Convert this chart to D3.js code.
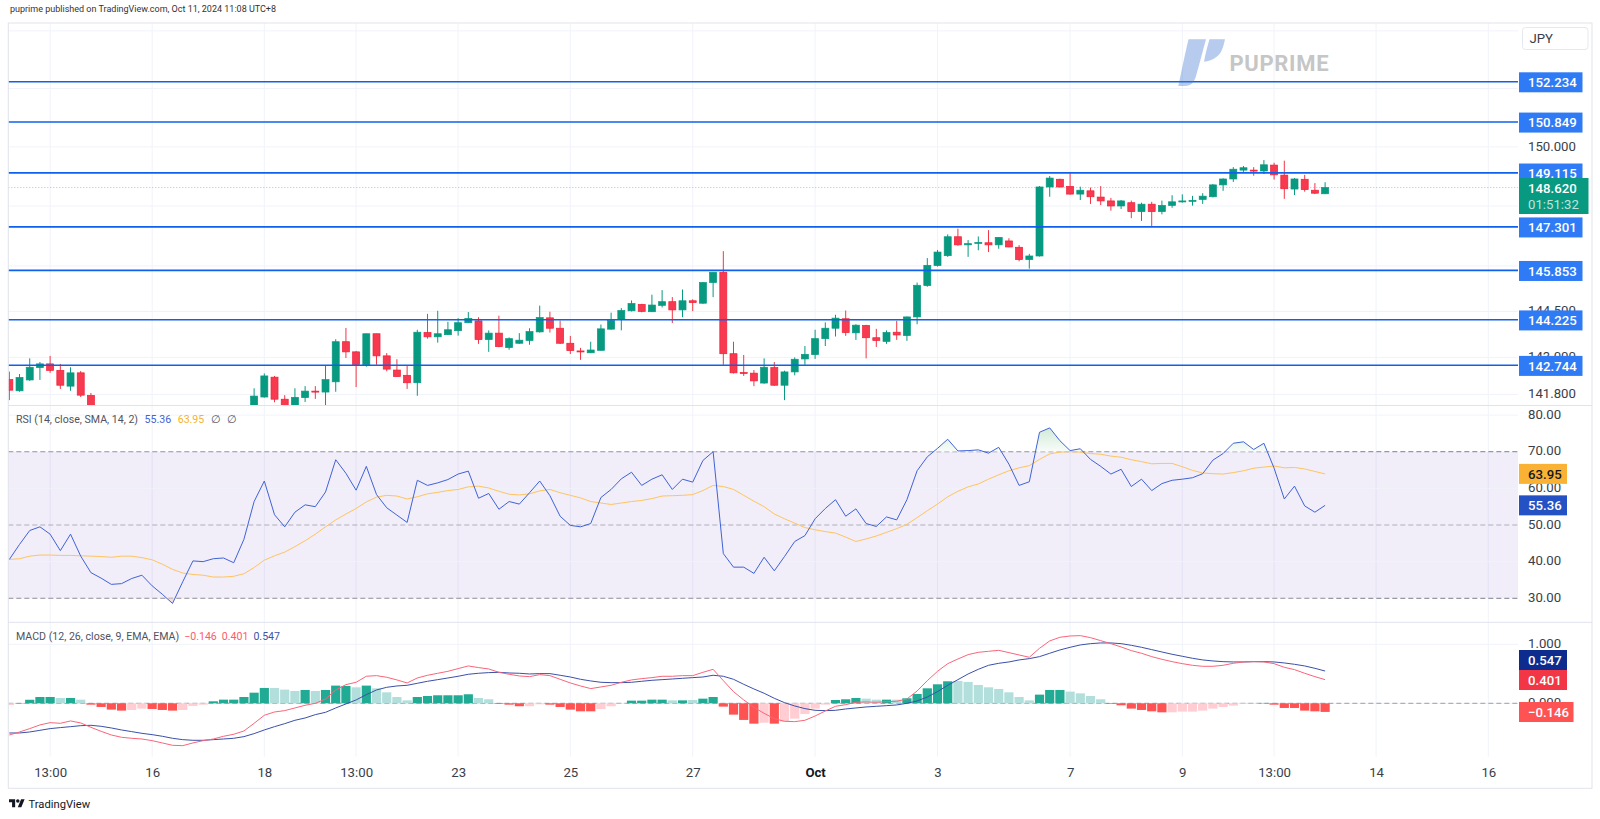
<!DOCTYPE html>
<html><head><meta charset="utf-8">
<script src="https://cdn.jsdelivr.net/npm/d3@7/dist/d3.min.js"></script>
<style>html,body{margin:0;padding:0;background:#fff}svg{display:block}text{font-family:Roboto,"Noto Sans",sans-serif}</style>
</head><body><svg id="c" width="1600" height="819"></svg>
<script>
const opens=[142.28,141.92,142.27,142.67,142.79,142.58,142.07,142.50,141.77,141.30,
141.05,140.85,140.70,140.80,140.60,140.45,140.35,140.10,140.00,140.50,
140.70,140.60,140.80,140.90,141.20,141.72,142.36,141.65,141.25,141.70,
141.91,141.88,142.21,143.51,143.18,142.76,143.77,143.05,142.59,142.42,
142.18,143.81,143.67,143.74,143.87,144.13,144.19,143.58,143.79,143.32,
143.46,143.55,143.83,144.29,143.95,143.46,143.21,143.15,143.23,143.92,
144.25,144.52,144.73,144.49,144.70,144.82,144.55,144.85,144.77,145.45,
145.79,143.12,142.51,142.49,142.17,142.67,142.10,142.53,142.95,143.09,
143.61,143.95,144.26,143.80,144.04,143.64,143.52,143.82,143.71,144.32,
145.35,146.01,146.34,146.97,146.70,146.76,146.77,146.70,146.83,146.62,
146.21,146.33,148.64,148.90,148.66,148.40,148.51,148.30,148.17,148.00,
148.11,147.81,148.06,147.81,148.02,148.14,148.17,148.22,148.31,148.71,
148.91,149.21,149.21,149.18,149.38,149.04,148.57,148.90,148.53,148.41];
const highs=[142.54,142.46,142.97,142.85,143.05,142.79,142.68,142.56,141.85,141.40,
141.30,141.00,140.95,141.05,140.75,140.80,140.55,140.40,140.60,140.90,
141.00,141.00,141.20,141.35,142.00,142.48,142.40,141.78,142.00,142.07,
142.07,142.74,143.59,143.96,143.21,143.77,143.77,143.14,142.94,142.72,
143.90,144.42,144.52,144.16,144.28,144.48,144.31,143.88,144.36,143.65,
143.79,143.95,144.69,144.49,144.20,143.70,143.31,143.51,144.07,144.46,
144.61,144.86,144.75,145.05,145.20,144.97,145.22,144.90,145.47,145.79,
146.49,143.51,143.08,142.59,142.97,142.85,142.57,143.00,143.37,143.90,
144.14,144.39,144.53,144.08,144.06,143.93,143.88,144.19,144.33,145.45,
146.26,146.53,147.05,147.24,146.86,146.98,147.19,146.95,146.92,146.69,
146.40,148.67,149.01,148.92,149.11,148.65,148.62,148.67,148.27,148.20,
148.18,148.11,148.14,148.18,148.36,148.39,148.34,148.43,148.74,148.93,
149.31,149.35,149.31,149.55,149.46,149.53,148.94,149.05,148.77,148.80];
const lows=[141.62,141.89,142.24,142.27,142.50,141.98,141.92,141.72,141.00,140.90,
140.70,140.50,140.40,140.50,140.30,140.20,139.90,139.60,139.80,140.30,
140.50,140.40,140.60,140.70,141.10,141.70,141.55,141.00,141.10,141.56,
141.66,141.42,141.89,142.98,142.04,142.70,142.76,142.55,142.37,141.98,
141.76,143.61,143.48,143.73,143.71,144.12,143.44,143.18,143.33,143.25,
143.44,143.41,143.81,143.81,143.44,143.11,142.92,143.14,143.22,143.90,
143.88,144.50,144.47,144.48,144.63,144.12,144.31,144.51,144.75,144.97,
142.76,142.48,142.40,142.07,142.15,142.08,141.62,142.42,142.76,142.95,
143.37,143.68,143.70,143.57,142.97,143.34,143.44,143.57,143.54,144.08,
145.31,145.98,146.30,146.67,146.30,146.52,146.46,146.57,146.62,146.15,
145.91,146.31,148.31,148.62,148.38,148.20,148.07,148.03,147.84,147.90,
147.59,147.50,147.32,147.72,147.94,148.11,148.01,148.07,148.29,148.51,
148.81,149.15,149.02,149.08,148.89,148.24,148.37,148.48,148.40,148.40];
const closes=[141.94,142.35,142.68,142.79,142.58,142.10,142.50,141.78,141.30,141.05,
140.85,140.70,140.80,140.60,140.45,140.35,140.10,140.00,140.50,140.70,
140.60,140.80,140.90,141.20,141.75,142.40,141.65,141.20,141.71,141.91,
141.88,142.28,143.51,143.18,142.77,143.77,143.05,142.62,142.38,142.18,
143.82,143.67,143.77,143.90,144.13,144.27,143.58,143.79,143.35,143.61,
143.56,143.84,144.30,143.95,143.46,143.22,143.19,143.24,143.93,144.20,
144.53,144.76,144.50,144.71,144.82,144.55,144.85,144.79,145.45,145.79,
143.12,142.50,142.49,142.24,142.68,142.10,142.53,142.94,143.10,143.61,
143.95,144.28,143.81,144.05,143.64,143.55,143.81,143.73,144.32,145.36,
146.02,146.46,146.97,146.70,146.74,146.78,146.70,146.95,146.63,146.21,
146.33,148.64,148.94,148.64,148.40,148.53,148.31,148.17,148.00,148.17,
147.81,148.06,147.81,148.02,148.14,148.17,148.19,148.33,148.71,148.91,
149.24,149.29,149.19,149.39,149.05,148.58,148.91,148.55,148.43,148.62];
const levels=[152.234,150.849,149.115,147.301,145.853,144.225,142.744];
const priceGrid=[154,152,150,148,146,144.5,143,141.8];
const priceLabels=[152,150,144.5,143,141.8];
const lastPrice=148.62, countdown="01:51:32";
const rsi=[40.6,44.7,48.5,49.5,47.5,43.0,47.5,41.5,37.0,35.5,33.8,34.0,35.4,36.3,33.4,31.1,28.6,34.5,40.2,40.0,
40.8,41.0,39.7,46.1,56.4,62.0,52.8,49.5,53.5,55.5,55.0,59.0,67.8,64.1,59.5,66.0,58.3,54.7,52.7,50.7,
62.2,60.8,61.5,62.4,63.9,64.7,57.3,58.6,54.3,56.4,55.7,58.8,62.0,58.0,52.4,49.9,49.5,50.4,57.5,59.7,
62.6,64.4,60.8,62.5,63.7,59.7,62.5,61.7,67.6,70.0,42.2,38.5,38.5,36.8,41.2,37.5,41.4,45.5,47.1,51.7,
54.5,56.9,52.4,54.4,50.4,49.6,52.2,51.4,56.9,64.8,68.6,70.9,73.4,70.2,70.3,70.5,69.6,71.2,66.6,60.8,
61.8,75.3,76.5,73.0,70.3,70.8,67.9,66.0,63.9,65.2,60.5,62.5,59.4,61.3,62.2,62.5,62.9,64.0,67.7,69.5,
72.3,72.7,70.6,72.3,65.5,57.1,60.6,55.2,53.5,55.36];
const rsiMa=[40.6,40.8,41.5,41.8,41.8,41.7,41.7,41.6,41.5,41.4,41.2,41.5,41.5,41.1,40.5,39.3,37.9,36.9,36.5,36.3,
35.8,35.8,36.0,36.7,38.4,40.4,41.6,42.6,44.1,45.7,47.5,49.5,51.4,53.0,54.5,56.3,57.6,58.1,57.9,57.1,
57.7,58.5,58.9,59.4,59.7,60.4,60.6,60.1,59.2,58.4,58.2,58.5,59.3,59.7,58.8,58.1,57.4,56.4,56.0,55.6,
56.0,56.4,56.7,57.2,57.9,58.0,58.1,58.3,59.4,60.8,60.5,59.7,58.1,56.5,55.0,53.0,51.7,50.5,49.3,48.7,
48.2,47.8,46.7,45.5,46.2,47.0,48.0,49.0,50.2,52.0,53.9,55.7,57.7,59.2,60.4,61.2,62.5,63.7,64.8,65.6,
66.2,67.9,69.4,69.9,70.0,69.9,69.5,69.3,68.8,68.5,67.8,67.3,66.7,66.8,66.8,65.9,64.9,64.2,64.0,63.9,
64.3,64.8,65.5,65.8,66.1,65.6,65.7,65.3,64.6,63.95];
const rsiTicks=[80,70,60,50,40,30];
const macd=[-.537,-.486,-.429,-.367,-.328,-.339,-.299,-.333,-.407,-.475,-.537,-.576,-.593,-.605,-.633,-.672,-.712,-.718,-.672,-.633,
-.605,-.559,-.525,-.469,-.339,-.203,-.147,-.124,-.079,-.034,0,.073,.226,.316,.356,.458,.469,.441,.396,.345,
.429,.475,.509,.542,.588,.633,.605,.582,.525,.492,.463,.452,.486,.469,.407,.345,.294,.249,.277,.305,
.356,.396,.418,.435,.458,.458,.469,.469,.525,.576,.384,.198,.057,-.068,-.170,-.260,-.305,-.311,-.288,-.215,
-.130,-.051,-.023,.017,.023,.017,.028,.034,.073,.209,.384,.542,.672,.751,.825,.864,.881,.898,.859,.819,
.780,.932,1.057,1.119,1.141,1.147,1.113,1.062,1.011,.955,.893,.848,.791,.746,.706,.672,.644,.627,.627,.644,
.678,.701,.706,.701,.672,.610,.571,.509,.452,.401];
const signal=[-.503,-.503,-.486,-.458,-.429,-.412,-.396,-.379,-.373,-.390,-.418,-.452,-.480,-.509,-.531,-.559,-.593,-.616,-.627,-.627,
-.616,-.605,-.593,-.565,-.514,-.452,-.396,-.345,-.288,-.249,-.192,-.153,-.079,-.011,.057,.147,.226,.271,.294,.305,
.339,.373,.401,.429,.458,.492,.509,.520,.525,.514,.509,.497,.503,.503,.475,.446,.407,.379,.356,.350,
.350,.356,.373,.390,.401,.412,.424,.435,.446,.475,.458,.407,.322,.243,.170,.085,.011,-.045,-.090,-.119,
-.124,-.119,-.096,-.079,-.062,-.051,-.040,-.028,0,.040,.107,.198,.305,.401,.497,.576,.644,.678,.701,.735,
.757,.791,.848,.904,.949,.989,1.011,1.023,1.023,1.011,.983,.949,.910,.870,.831,.797,.763,.735,.718,.706,
.701,.701,.706,.706,.701,.684,.661,.633,.593,.547];
const hist=[-.03,.005,.06,.107,.107,.09,.09,.062,-.023,-.062,-.107,-.124,-.113,-.09,-.096,-.113,-.124,-.113,-.045,-.023,
.034,.062,.062,.107,.18,.26,.26,.232,.209,.226,.209,.226,.30,.294,.271,.30,.254,.186,.107,.05,
.107,.124,.136,.136,.136,.153,.09,.068,-.011,-.023,-.05,-.05,-.017,-.023,-.062,-.107,-.136,-.136,-.096,-.05,
-.005,.045,.045,.062,.062,.05,.05,.056,.079,.107,-.056,-.192,-.282,-.345,-.328,-.345,-.311,-.26,-.18,-.09,
-.023,.056,.068,.09,.079,.062,.062,.062,.085,.158,.254,.322,.373,.379,.362,.311,.271,.243,.186,.107,
.05,.147,.226,.226,.198,.169,.124,.068,-.011,-.034,-.09,-.113,-.136,-.153,-.153,-.141,-.141,-.124,-.09,-.062,
-.04,-.011,-.006,.006,-.023,-.079,-.079,-.124,-.136,-.146];
const histFaded=[0,5,7,12,13,17,18,19,26,27,28,30,34,36,37,38,39,46,47,51,52,58,59,60,65,67,74,76,77,78,79,80,84,85,87,93,94,95,96,97,98,99,100,104,105,106,107,114,115,116,117,118,119,120,121,122];
const macdTicks=[1,0];
const timeBars=[4,14,25,34,44,55,67,79,91,104,115,124,134,145];
const timeLabels=["13:00","16","18","13:00","23","25","27","Oct","3","7","9","13:00","14","16"];

const L=8.3,R=1518,RB=1592,T=23,PB=405.5,RT=405.5,RB2=622.3,MB=756.7,B=788.3;
const GRID="#f0f3fa",DIV="#e0e3eb",UP="#089981",DOWN="#f23645",LVL="#0f60ec",BADGE="#2f7bf6";
const idx=d3.range(opens.length);
const x=d3.scaleLinear().domain([0,129]).range([9.33,1325.1]);
const yP=d3.scaleLog().domain([152.234,142.744]).range([81.7,365.3]);
const yR=d3.scaleLinear().domain([70,30]).range([451.7,598.3]);
const yM=d3.scaleLinear().domain([1,0]).range([644.3,703.3]);
const svg=d3.select("#c");
const defs=svg.append("defs");
defs.append("clipPath").attr("id","cp").append("rect").attr("x",L).attr("y",T).attr("width",R-L).attr("height",PB-T);
defs.append("clipPath").attr("id","cr").append("rect").attr("x",L).attr("y",RT).attr("width",R-L).attr("height",RB2-RT);
defs.append("clipPath").attr("id","cm").append("rect").attr("x",L).attr("y",RB2).attr("width",R-L).attr("height",MB-RB2);
defs.append("clipPath").attr("id","cob").append("rect").attr("x",L).attr("y",RT).attr("width",R-L).attr("height",yR(70)-RT);
defs.append("clipPath").attr("id","cos").append("rect").attr("x",L).attr("y",yR(30)).attr("width",R-L).attr("height",RB2-yR(30));
const gr=defs.append("linearGradient").attr("id","ob").attr("gradientUnits","userSpaceOnUse").attr("x1",0).attr("x2",0).attr("y1",yR(77)).attr("y2",yR(70));
gr.append("stop").attr("offset",0).attr("stop-color","#cfe9d5");gr.append("stop").attr("offset",1).attr("stop-color","#f9fcfa");

// header
svg.append("text").attr("x",10).attr("y",11.5).attr("font-size",9).attr("fill","#333").text("puprime published on TradingView.com, Oct 11, 2024 11:08 UTC+8");

// vertical grid
const gv=svg.append("g");
[[T,PB],[RT,RB2],[RB2,MB]].forEach(([a,b])=>{
  gv.append("g").selectAll("line").data(timeBars).join("line").attr("x1",d=>x(d)).attr("x2",d=>x(d)).attr("y1",a).attr("y2",b).attr("stroke",GRID).attr("stroke-width",1);
});
// horizontal grids
function hgrid(ticks,sc){svg.append("g").selectAll("line").data(ticks).join("line").attr("x1",L).attr("x2",R).attr("y1",d=>sc(d)).attr("y2",d=>sc(d)).attr("stroke",GRID).attr("stroke-width",1);}
hgrid(priceGrid,yP);

// RSI band
svg.append("rect").attr("x",L).attr("width",R-L).attr("y",yR(70)).attr("height",yR(30)-yR(70)).attr("fill","#7e57c2").attr("fill-opacity",.105);
hgrid(rsiTicks.filter(d=>d!==70&&d!==30&&d!==50),yR);
hgrid(macdTicks,yM);
const bands=[[70,"#787b86",.95],[50,"#787b86",.55],[30,"#787b86",.95]];
svg.append("g").selectAll("line").data(bands).join("line").attr("x1",L).attr("x2",R).attr("y1",d=>yR(d[0])).attr("y2",d=>yR(d[0])).attr("stroke",d=>d[1]).attr("stroke-opacity",d=>d[2]).attr("stroke-dasharray","5 3").attr("stroke-width",1);

// candles
const gc=svg.append("g").attr("clip-path","url(#cp)");
gc.selectAll("line").data(idx).join("line").attr("x1",i=>x(i)).attr("x2",i=>x(i)).attr("y1",i=>yP(highs[i])).attr("y2",i=>yP(lows[i])).attr("stroke",i=>closes[i]>=opens[i]?UP:DOWN).attr("stroke-width",1);
gc.selectAll("rect").data(idx).join("rect").attr("x",i=>x(i)-3.5).attr("width",7)
  .attr("y",i=>Math.min(yP(opens[i]),yP(closes[i]))).attr("height",i=>Math.max(1,Math.abs(yP(opens[i])-yP(closes[i]))))
  .attr("fill",i=>closes[i]>=opens[i]?UP:"#f73a50").attr("stroke",i=>closes[i]>=opens[i]?"#089981":"#f01f38").attr("stroke-width",.7);

// last price line and levels
svg.append("line").attr("x1",L).attr("x2",R).attr("y1",yP(lastPrice)).attr("y2",yP(lastPrice)).attr("stroke",UP).attr("stroke-opacity",.45).attr("stroke-dasharray","1 2").attr("stroke-width",1);
svg.append("g").selectAll("line").data(levels).join("line").attr("x1",L).attr("x2",R).attr("y1",d=>yP(d)).attr("y2",d=>yP(d)).attr("stroke",LVL).attr("stroke-width",1.6);

// watermark
const wm=svg.append("g");
wm.append("path").attr("d","M1188.5 39.3 L1206 39.3 C1203 50 1199 66 1196 76 C1194 83 1190 86 1185 86 L1178.3 86 C1181 74 1185 54 1188.5 39.3Z").attr("fill","#3f77d0").attr("fill-opacity",.38);
wm.append("path").attr("d","M1209.5 39.3 L1225 39.3 C1223.5 46 1222 53 1217 56.5 C1213 60 1208 61.5 1204 61.7 C1205.5 54 1207.5 46 1209.5 39.3Z").attr("fill","#3f77d0").attr("fill-opacity",.38);
wm.append("text").attr("x",1229.5).attr("y",70.8).attr("font-size",22).attr("font-weight",700).attr("fill","#c6c6c6").attr("textLength",99).text("PUPRIME");

// RSI
const gr2=svg.append("g").attr("clip-path","url(#cr)");
const rArea=d3.area().x(i=>x(i)).y0(yR(70)).y1(i=>yR(rsi[i]));
gr2.append("g").attr("clip-path","url(#cob)").append("path").attr("d",rArea(idx)).attr("fill","url(#ob)");
const rArea2=d3.area().x(i=>x(i)).y0(yR(30)).y1(i=>yR(rsi[i]));
gr2.append("g").attr("clip-path","url(#cos)").append("path").attr("d",rArea2(idx)).attr("fill","#f7dde0");
gr2.append("path").attr("d",d3.line().x(i=>x(i)).y(i=>yR(rsiMa[i]))(idx)).attr("fill","none").attr("stroke","#fec45f").attr("stroke-width",1);
gr2.append("path").attr("d",d3.line().x(i=>x(i)).y(i=>yR(rsi[i]))(idx)).attr("fill","none").attr("stroke","#3f63d6").attr("stroke-width",1);

// MACD
const gm=svg.append("g").attr("clip-path","url(#cm)");
gm.append("line").attr("x1",L).attr("x2",R).attr("y1",yM(0)).attr("y2",yM(0)).attr("stroke","#787b86").attr("stroke-opacity",.7).attr("stroke-dasharray","5 3");
gm.append("g").selectAll("rect").data(idx).join("rect").attr("x",i=>x(i)-4.6).attr("width",9.2)
  .attr("y",i=>Math.min(yM(hist[i]),yM(0))).attr("height",i=>Math.abs(yM(hist[i])-yM(0)))
  .attr("fill",i=>{const f=histFaded.includes(i);return hist[i]>=0?(f?"#b2dfdb":"#22ab94"):(f?"#ffcdd2":"#ff5252");});
gm.append("path").attr("d",d3.line().x(i=>x(i)).y(i=>yM(signal[i]))(idx)).attr("fill","none").attr("stroke","#3a50a8").attr("stroke-width",1);
gm.append("path").attr("d",d3.line().x(i=>x(i)).y(i=>yM(macd[i]))(idx)).attr("fill","none").attr("stroke","#f9657a").attr("stroke-width",1);

// dividers / frame
svg.append("rect").attr("x",L).attr("y",T).attr("width",RB-L).attr("height",B-T).attr("fill","none").attr("stroke",DIV).attr("stroke-width",1);
[PB,RB2].forEach(yy=>svg.append("line").attr("x1",L).attr("x2",RB).attr("y1",yy).attr("y2",yy).attr("stroke",DIV).attr("stroke-width",1));

// axes
function styleAxis(g,size,fill){g.select(".domain").remove();g.selectAll("line").remove();g.selectAll("text").attr("font-size",size).attr("fill",fill);}
svg.append("g").attr("transform",`translate(1528,-0.8)`).call(d3.axisRight(yP).tickValues(priceLabels).tickFormat(d3.format(".3f")).tickSize(0).tickPadding(0)).call(g=>styleAxis(g,13.2,"#3a3e48"));
svg.append("g").attr("transform",`translate(1528,-1)`).call(d3.axisRight(yR).tickValues(rsiTicks).tickFormat(d3.format(".2f")).tickSize(0).tickPadding(0)).call(g=>styleAxis(g,13.2,"#3a3e48"));
svg.append("g").attr("transform",`translate(1528,-1)`).call(d3.axisRight(yM).tickValues(macdTicks).tickFormat(d3.format(".3f")).tickSize(0).tickPadding(0)).call(g=>styleAxis(g,13.2,"#3a3e48"));
const xa=svg.append("g").attr("transform",`translate(0,768)`).call(d3.axisBottom(x).tickValues(timeBars).tickFormat((d,i)=>timeLabels[i]).tickSize(0).tickPadding(0));
styleAxis(xa,13.2,"#3a3e48");
xa.selectAll("text").attr("font-weight",d=>timeLabels[timeBars.indexOf(d)]==="Oct"?700:400).attr("fill",d=>timeLabels[timeBars.indexOf(d)]==="Oct"?"#131722":"#3a3e48");

// badges
function badge(x0,w,yc,h,fill,txt,tf,fw){
  svg.append("rect").attr("x",x0).attr("y",yc-h/2).attr("width",w).attr("height",h).attr("fill",fill);
  svg.append("text").attr("x",1528).attr("y",yc).attr("dy","0.36em").attr("font-size",13.2).attr("font-weight",fw||500).attr("fill",tf).text(txt);
}
levels.forEach(v=>badge(1519,63.5,yP(v)+.6,20,BADGE,d3.format(".3f")(v),"#fff"));
svg.append("rect").attr("x",1519).attr("y",178).attr("width",69.5).attr("height",36).attr("fill",UP);
svg.append("text").attr("x",1528).attr("y",188.5).attr("dy","0.36em").attr("font-size",13.2).attr("font-weight",500).attr("fill","#fff").text(d3.format(".3f")(lastPrice));
svg.append("text").attr("x",1528).attr("y",203.8).attr("dy","0.36em").attr("font-size",13.2).attr("fill","#bfe3dc").text(countdown);
svg.append("rect").attr("x",1522.5).attr("y",27.5).attr("width",65.5).attr("height",22).attr("rx",3).attr("fill","#fff").attr("stroke","#e6e8ef");
svg.append("text").attr("x",1529.5).attr("y",38.5).attr("dy","0.36em").attr("font-size",13.2).attr("fill","#3a3e48").text("JPY");
badge(1519,48,yR(rsiMa[129]),20,"#f9b233",d3.format(".2f")(rsiMa[129]),"#131722");
badge(1519,48,yR(rsi[129]),20,"#2451c4",d3.format(".2f")(rsi[129]),"#fff");
badge(1519,48,660,20,"#0d2c8e",d3.format(".3f")(signal[129]),"#fff");
badge(1519,48,680,20,"#f23645",d3.format(".3f")(macd[129]),"#fff");
badge(1519,54.5,712,20,"#ff5252",d3.format(".3f")(hist[129]).replace("-","\u2212"),"#fff");

// legends
function legend(yy,parts,gap){const t=svg.append("text").attr("x",16).attr("y",yy).attr("dy","0.36em").attr("font-size",10.6);
  parts.forEach(([s,c],k)=>t.append("tspan").attr("fill",c).attr("dx",k?gap:0).text(s));}
legend(419.3,[["RSI (14, close, SMA, 14, 2)","#50535e"],[d3.format(".2f")(rsi[129]),"#3f63d6"],[d3.format(".2f")(rsiMa[129]),"#f5b32e"],["\u2205","#50535e"],["\u2205","#50535e"]],6.5);
legend(635.7,[["MACD (12, 26, close, 9, EMA, EMA)","#50535e"],[d3.format(".3f")(hist[129]).replace("-","\u2212"),"#ff5a6a"],[d3.format(".3f")(macd[129]),"#ff5a6a"],[d3.format(".3f")(signal[129]),"#3e55a5"]],5);

// TradingView logo
const tv=svg.append("g").attr("transform","translate(9,797.5) scale(.44)");
tv.append("path").attr("d","M14 22H7V11H0V4h14v18zM28 22h-8l7.5-18h8L28 22z").attr("fill","#131722");
tv.append("circle").attr("cx",20).attr("cy",8).attr("r",4).attr("fill","#131722");
svg.append("text").attr("x",28.5).attr("y",808).attr("font-size",11.2).attr("font-weight",400).attr("fill","#131722").text("TradingView");
</script></body></html>
